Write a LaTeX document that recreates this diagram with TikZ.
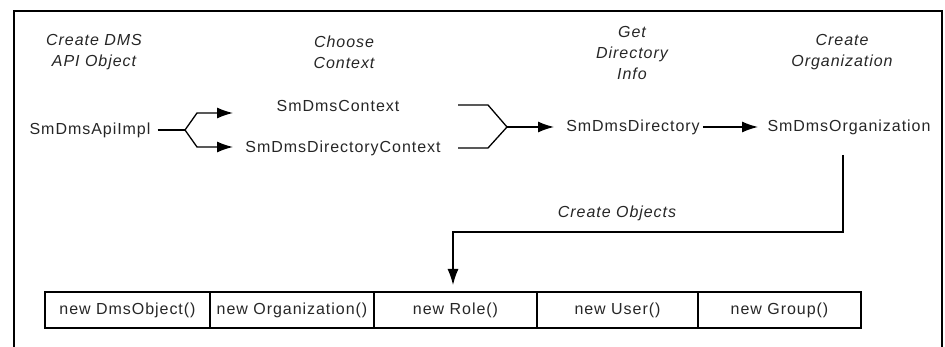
\documentclass[tikz,border=0pt]{standalone}
\usepackage{fontspec}
\setmainfont{Liberation Sans}[LetterSpace=6]
\usetikzlibrary{arrows.meta}
\begin{document}
\begin{tikzpicture}[x=1pt,y=-1pt,
  txt/.style={font=\fontsize{16}{21}\selectfont, inner sep=3pt, text=black!85},
  lbl/.style={font=\fontsize{16}{21}\selectfont\itshape, align=center, inner sep=0pt, text=black!85},
  cell/.style={draw, line width=1.4pt, minimum height=36pt, inner sep=0pt, font=\fontsize{16}{21}\selectfont, text=black!85},
  ln/.style={line width=1.3pt},
  arr/.style={line width=1.3pt, -{Latex[length=16pt,width=11pt]}},
  frame/.style={line width=2.6pt}]
\useasboundingbox (0,0) rectangle (945,347);
% outer frame (open at the bottom)
\draw[frame] (14,352) -- (14,11) -- (942,11) -- (942,352);

% headings
\node[lbl] (h1) at (94,52) {Create DMS\\API Object};
\node[lbl] (h2) at (344,52) {Choose\\Context};
\node[lbl] (h3) at (632,53) {Get\\Directory\\Info};
\node[lbl] (h4) at (842,52) {Create\\Organization};

% main objects
\node[txt] (api) at (90,130) {SmDmsApiImpl};
\node[txt] (ctx) at (338,106) {SmDmsContext};
\node[txt] (dctx) at (343,148) {SmDmsDirectoryContext};
\node[txt] (dir) at (633,127) {SmDmsDirectory};
\node[txt] (org) at (849,127) {SmDmsOrganization};

% fork
\coordinate (fk) at (185,130);
\coordinate (fu) at (197,113);
\coordinate (fd) at (197,147);
\coordinate (tu) at (233,113);
\coordinate (td) at (233,147);
\draw[ln, shorten <=4pt] (api.east) -- (fk);
\draw[arr] (fk) -- (fu) -- (tu);
\draw[arr] (fk) -- (fd) -- (td);

% merge
\coordinate (m1) at (458,105);
\coordinate (m1b) at (488,105);
\coordinate (m2) at (458,148);
\coordinate (m2b) at (488,148);
\coordinate (mg) at (507,127);
\coordinate (dirin) at (554,127);
\draw[ln] (m1) -- (m1b) -- (mg);
\draw[ln] (m2) -- (m2b) -- (mg);
\draw[arr] (mg) -- (dirin);

% directory -> organization
\coordinate (orgin) at (758,127);
\draw[arr] (dir.east) -- (orgin);

% create objects
\coordinate (v1) at (843,155);
\coordinate (v2) at (843,232);
\coordinate (v3) at (453,232);
\coordinate (v4) at (453,285);
\draw[arr] (v1) -- (v2) -- (v3) -- (v4);
\node[lbl] (co) at (617,213) {Create Objects};

% table
\node[cell, minimum width=165pt] (c1) at (127.5,310) {new DmsObject()};
\node[cell, minimum width=164pt] (c2) at (292,310) {new Organization()};
\node[cell, minimum width=163pt] (c3) at (455.5,310) {new Role()};
\node[cell, minimum width=161pt] (c4) at (617.5,310) {new User()};
\node[cell, minimum width=163pt] (c5) at (779.5,310) {new Group()};
\end{tikzpicture}
\end{document}
